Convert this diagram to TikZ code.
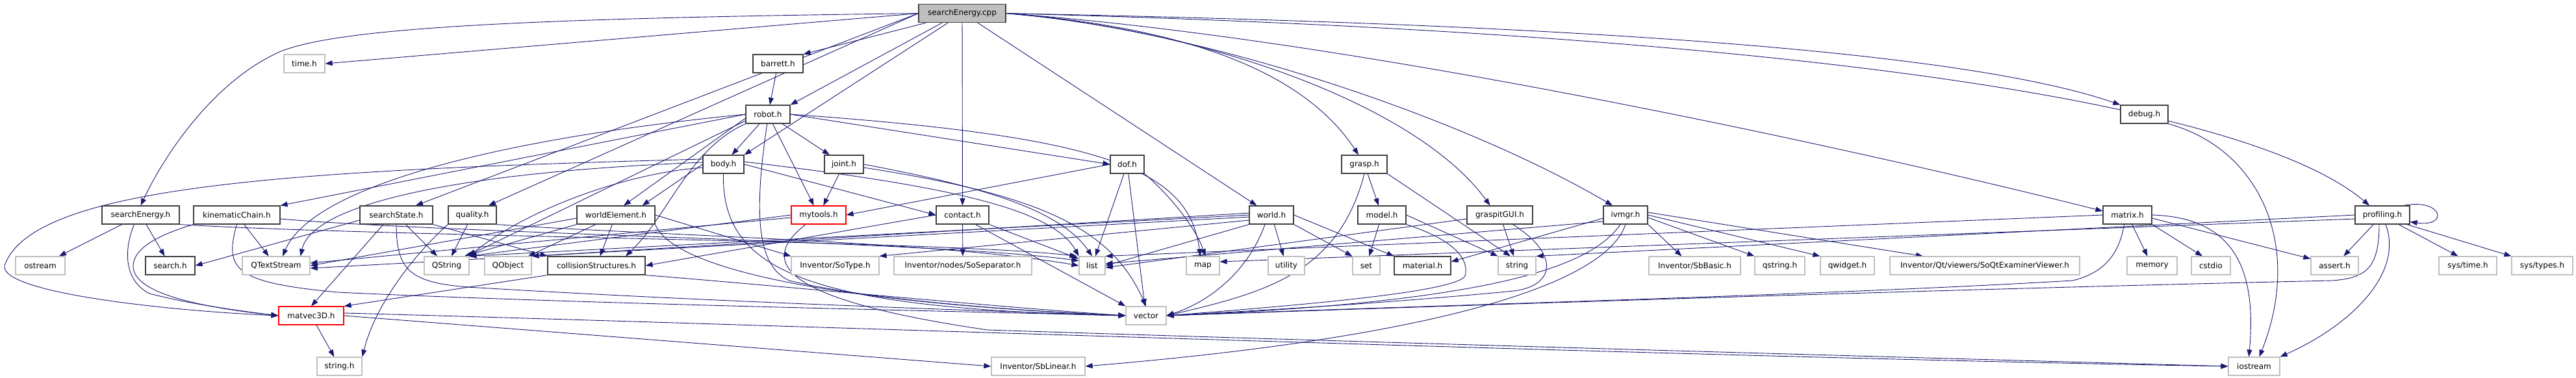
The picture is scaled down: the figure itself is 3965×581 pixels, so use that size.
\documentclass[tikz,border=0pt]{standalone}
\usepackage{fontspec}
\setmainfont{DejaVu Sans}
\usetikzlibrary{arrows.meta}

\definecolor{depblue}{HTML}{191970}
\definecolor{framegray}{HTML}{404040}
\definecolor{extgray}{HTML}{BFBFBF}

\pgfdeclarelayer{edges}
\pgfsetlayers{edges,main}

\tikzset{
  filebox/.style={rectangle, minimum height=28pt, inner sep=0pt, fill=white, line width=1.2pt, font=\fontsize{12}{14}\selectfont},
  hdr/.style={filebox, draw=framegray},
  ext/.style={filebox, draw=extgray},
  trunc/.style={filebox, draw=red},
  root/.style={filebox, draw=framegray, fill=extgray},
  dep/.style={draw=depblue, line width=0.9pt, -{Triangle[length=11pt, width=8pt]}},
}

\begin{document}
\begin{tikzpicture}[x=1pt, y=1pt]
    \useasboundingbox (0,0) rectangle (3965,-581);

    % source file
    \node[root, minimum width=134] (cpp) at (1481,-20.6) {searchEnergy.cpp};

    % row 1 and 2
    \node[ext, minimum width=63] (time) at (468.5,-98) {time.h};
    \node[hdr, minimum width=77] (barrett) at (1197.5,-98) {barrett.h};
    \node[hdr, minimum width=68] (robot) at (1182,-176) {robot.h};
    \node[hdr, minimum width=73] (debug) at (3300.5,-176) {debug.h};

    % row 3
    \node[hdr, minimum width=63] (body) at (1113.5,-253) {body.h};
    \node[hdr, minimum width=60] (joint) at (1299,-253) {joint.h};
    \node[hdr, minimum width=52] (dof) at (1735,-253) {dof.h};
    \node[hdr, minimum width=70] (grasp) at (2100,-253) {grasp.h};

    % row 4
    \node[hdr, minimum width=119] (seh) at (216.5,-331) {searchEnergy.h};
    \node[hdr, minimum width=133] (kchain) at (364.5,-331) {kinematicChain.h};
    \node[hdr, minimum width=112] (sstate) at (610,-331) {searchState.h};
    \node[hdr, minimum width=74] (quality) at (727,-331) {quality.h};
    \node[hdr, minimum width=120] (welem) at (948,-331) {worldElement.h};
    \node[trunc, minimum width=84] (mytools) at (1260,-331) {mytools.h};
    \node[hdr, minimum width=81] (contact) at (1481.5,-331) {contact.h};
    \node[hdr, minimum width=68] (world) at (1957,-331) {world.h};
    \node[hdr, minimum width=74] (model) at (2127,-331) {model.h};
    \node[hdr, minimum width=101] (gui) at (2308.5,-331) {graspitGUI.h};
    \node[hdr, minimum width=68] (ivmgr) at (2502,-331) {ivmgr.h};
    \node[hdr, minimum width=75] (matrix) at (3274.5,-331) {matrix.h};
    \node[hdr, minimum width=84] (profiling) at (3667,-331) {profiling.h};

    % row 5
    \node[ext, minimum width=76] (ostream) at (62,-409) {ostream};
    \node[hdr, minimum width=76] (search) at (262,-409) {search.h};
    \node[ext, minimum width=104] (qtext) at (425,-409) {QTextStream};
    \node[ext, minimum width=69] (qstr) at (687.5,-409) {QString};
    \node[ext, minimum width=72] (qobj) at (782,-409) {QObject};
    \node[hdr, minimum width=150] (collision) at (918,-409) {collisionStructures.h};
    \node[ext, minimum width=135] (sotype) at (1285.5,-409) {Inventor/SoType.h};
    \node[ext, minimum width=212] (sosep) at (1482,-409) {Inventor/nodes/SoSeparator.h};
    \node[ext, minimum width=40] (list) at (1681,-409) {list};
    \node[ext, minimum width=51] (map) at (1851.5,-409) {map};
    \node[ext, minimum width=56] (utility) at (1980,-409) {utility};
    \node[ext, minimum width=42] (set) at (2103,-409) {set};
    \node[hdr, minimum width=87] (material) at (2189.5,-409) {material.h};
    \node[ext, minimum width=58] (string) at (2335,-409) {string};
    \node[ext, minimum width=141] (sbbasic) at (2608.5,-409) {Inventor/SbBasic.h};
    \node[ext, minimum width=77] (qstrh) at (2739.5,-409) {qstring.h};
    \node[ext, minimum width=83] (qwidget) at (2843.5,-409) {qwidget.h};
    \node[ext, minimum width=292] (soqt) at (3055,-409) {Inventor/Qt/viewers/SoQtExaminerViewer.h};
    \node[ext, minimum width=77] (memory) at (3312.5,-409) {memory};
    \node[ext, minimum width=60] (cstdio) at (3403,-409) {cstdio};
    \node[ext, minimum width=73] (assert) at (3593.5,-409) {assert.h};
    \node[ext, minimum width=89] (systime) at (3798.5,-409) {sys/time.h};
    \node[ext, minimum width=94] (systypes) at (3913,-409) {sys/types.h};

    % row 6 and 7
    \node[trunc, minimum width=100] (matvec) at (479,-486) {matvec3D.h};
    \node[ext, minimum width=62] (vector) at (1764,-486) {vector};
    \node[ext, minimum width=69] (stringh) at (522.5,-564) {string.h};
    \node[ext, minimum width=144] (sblinear) at (1598,-564) {Inventor/SbLinear.h};
    \node[ext, minimum width=79] (iostream) at (3469.5,-564) {iostream};

    \begin{pgfonlayer}{edges}
    % searchEnergy.cpp
    \draw[dep] (cpp.west) -- (time.east);
    \draw[dep] (cpp.west) .. controls (820,-28) and (520,-42) .. (430,-80) .. controls (330,-125) and (255,-235) .. (seh.north);
    \draw[dep] ([xshift=-56]cpp.south) -- (barrett.north east);
    \draw[dep] ([xshift=-31]cpp.south) -- (robot.north east);
    \draw[dep] ([xshift=-22]cpp.south) -- (body.north east);
    \draw[dep] (cpp) -- (contact);
    \draw[dep] ([xshift=24]cpp.south) -- ([xshift=12]world.north west);
    \draw[dep] (cpp.west) -- ([xshift=30]sstate.north);
    \draw[dep] (cpp.west) -- ([xshift=25]quality.north);
    \draw[dep] (cpp.east) .. controls (1800,-40) and (2000,-100) .. ([xshift=-9]grasp.north);
    \draw[dep] (cpp.east) .. controls (1850,-45) and (2180,-160) .. ([xshift=-15]gui.north);
    \draw[dep] (cpp.east) .. controls (1850,-45) and (2250,-180) .. ([xshift=-20]ivmgr.north);
    \draw[dep] (cpp.east) .. controls (2100,-60) and (2900,-240) .. ([yshift=6]matrix.west);
    \draw[dep] (cpp.east) .. controls (2300,-35) and (3000,-70) .. (debug.north west);
    \draw[dep] (cpp.east) .. controls (2700,-50) and (3450,-150) .. ([xshift=-20]profiling.north);

    % barrett.h and robot.h
    \draw[dep] (barrett) -- (robot);
    \draw[dep] (robot) -- (body);
    \draw[dep] (robot) -- (joint);
    \draw[dep] (robot) -- (mytools);
    \draw[dep] (robot.east) -- (dof.west);
    \draw[dep] (robot.east) .. controls (1700,-210) and (1830,-260) .. ([xshift=-4]map.north);
    \draw[dep] (robot.265) .. controls (1160,-330) and (1165,-410) .. (1215,-432) .. controls (1350,-465) and (1600,-480) .. (vector.west);
    \draw[dep] (robot.west) -- (kchain.north east);
    \draw[dep] ([yshift=-6]robot.west) -- ([xshift=12]welem.north);
    \draw[dep] (robot.west) .. controls (750,-215) and (480,-290) .. ([xshift=10]qtext.north);
    \draw[dep] ([yshift=-10]robot.west) -- ([xshift=-4]qstr.north east);
    \draw[dep] (robot.south west) .. controls (1060,-230) and (1030,-330) .. ([xshift=45]collision.north);

    % body.h and joint.h
    \draw[dep] (body.west) -- ([xshift=-20]welem.north east);
    \draw[dep] (body.east) -- (contact.west);
    \draw[dep] ([yshift=4]body.east) .. controls (1450,-285) and (1620,-320) .. (list.north west);
    \draw[dep] (body.south) .. controls (1110,-420) and (1250,-475) .. (vector.west);
    \draw[dep] ([yshift=-5]body.west) .. controls (950,-268) and (800,-330) .. (qstr.north east);
    \draw[dep] ([yshift=3]body.west) .. controls (700,-265) and (480,-315) .. ([xshift=-15]qtext.north east);
    \draw[dep] ([yshift=8]body.west) .. controls (450,-262) and (50,-285) .. (7,-409) .. controls (0,-450) and (250,-478) .. (matvec.west);
    \draw[dep] (joint) -- (mytools);
    \draw[dep] (joint.east) .. controls (1500,-285) and (1630,-320) .. (list.north);
    \draw[dep] ([yshift=-5]joint.east) .. controls (1600,-300) and (1710,-350) .. (vector.north);

    % dof.h and grasp.h
    \draw[dep] (dof.west) -- (mytools.east);
    \draw[dep] (dof) -- (list);
    \draw[dep] (dof) -- (vector);
    \draw[dep] (dof.south east) .. controls (1800,-300) and (1840,-350) .. ([xshift=4]map.north);
    \draw[dep] (grasp) -- (model);
    \draw[dep] (grasp.south east) -- ([xshift=-10]string.north);
    \draw[dep] (grasp.south) .. controls (2060,-420) and (1950,-450) .. (vector.east);

    % searchEnergy.h, kinematicChain.h, searchState.h, quality.h
    \draw[dep] (seh) -- (ostream);
    \draw[dep] (seh) -- (search);
    \draw[dep] ([xshift=-10]seh.south) .. controls (192,-380) and (188,-430) .. (230,-452) .. controls (300,-470) and (380,-480) .. (matvec.west);
    \draw[dep] (seh.south east) .. controls (600,-365) and (1450,-370) .. ([xshift=-3]list.north west);
    \draw[dep] (kchain) -- (qtext);
    \draw[dep] (kchain.south west) .. controls (250,-360) and (205,-380) .. (205,-410) .. controls (205,-450) and (300,-472) .. (matvec.west);
    \draw[dep] (kchain.south) .. controls (345,-415) and (360,-435) .. (520,-450) .. controls (900,-468) and (1500,-480) .. (vector.west);
    \draw[dep] ([yshift=-6]kchain.east) .. controls (700,-360) and (1450,-372) .. (list.160);
    \draw[dep] ([yshift=-8]sstate.west) -- (search.east);
    \draw[dep] (sstate) -- (qstr);
    \draw[dep] ([xshift=-20]sstate.south) -- (matvec.north);
    \draw[dep] (sstate.south) .. controls (610,-415) and (630,-435) .. (720,-442) .. controls (1100,-465) and (1500,-478) .. (vector.west);
    \draw[dep] (sstate.south east) -- (collision.north west);
    \draw[dep] (quality) -- (qstr);
    \draw[dep] (quality.south west) .. controls (650,-380) and (580,-460) .. (stringh.north east);
    \draw[dep] (quality.south east) .. controls (1000,-362) and (1450,-372) .. (list.west);

    % worldElement.h, mytools.h, contact.h
    \draw[dep] ([yshift=-5]welem.west) -- (qtext.east);
    \draw[dep] (welem.south west) -- ([xshift=-8]qstr.north east);
    \draw[dep] (welem) -- (qobj);
    \draw[dep] (welem) -- (collision);
    \draw[dep] (welem.east) -- (sotype.north west);
    \draw[dep] (welem.south east) .. controls (1030,-400) and (1200,-462) .. (vector.west);
    \draw[dep] (mytools.west) -- ([xshift=-2]qstr.north east);
    \draw[dep] ([yshift=-4]mytools.west) -- ([yshift=4]qtext.east);
    \draw[dep] ([xshift=-20]mytools.south) .. controls (1170,-400) and (1190,-460) .. (1520,-508) .. controls (2200,-530) and (3000,-552) .. (iostream.west);
    \draw[dep] (contact) -- (sosep);
    \draw[dep] (contact.south east) -- ([yshift=-4]list.north west);
    \draw[dep] ([xshift=20]contact.south) -- (vector.north west);
    \draw[dep] (contact.west) -- (collision.east);

    % world.h, model.h, graspitGUI.h, ivmgr.h
    \draw[dep] ([yshift=3]world.west) -- (qobj.north east);
    \draw[dep] (world.west) -- (qstr.north east);
    \draw[dep] ([yshift=-3]world.west) -- ([yshift=-4]qtext.east);
    \draw[dep] ([yshift=-8]world.west) -- (sotype.north east);
    \draw[dep] (world.south west) -- (list.east);
    \draw[dep] (world) -- (utility);
    \draw[dep] (world.south east) -- (set.north west);
    \draw[dep] (world.east) -- (material.north west);
    \draw[dep] ([xshift=-10]world.south) .. controls (1920,-420) and (1860,-465) .. (vector.east);
    \draw[dep] (model) -- (set);
    \draw[dep] (model.east) -- (string.north west);
    \draw[dep] (model.south east) .. controls (2240,-370) and (2262,-400) .. (2255,-425) .. controls (2240,-450) and (2000,-470) .. (vector.east);
    \draw[dep] (gui) -- (string);
    \draw[dep] ([xshift=20]gui.south) .. controls (2400,-390) and (2395,-440) .. (2330,-448) .. controls (2100,-470) and (1900,-480) .. (vector.east);
    \draw[dep] ([yshift=-6]gui.west) -- ([yshift=-3]list.east);
    \draw[dep] ([yshift=-10]ivmgr.west) -- ([yshift=3]list.east);
    \draw[dep] ([yshift=-5]ivmgr.west) -- ([yshift=6]material.east);
    \draw[dep] ([xshift=-8]ivmgr.south) .. controls (2450,-410) and (2300,-465) .. (vector.east);
    \draw[dep] (ivmgr.south) .. controls (2470,-440) and (2200,-520) .. (sblinear.east);
    \draw[dep] (ivmgr.south east) -- ([xshift=-20]sbbasic.north);
    \draw[dep] ([yshift=-4]ivmgr.east) -- (qstrh.north west);
    \draw[dep] (ivmgr.east) -- (qwidget.north west);
    \draw[dep] ([yshift=4]ivmgr.east) -- ([xshift=-95]soqt.north);

    % matrix.h, profiling.h, debug.h
    \draw[dep] (matrix.west) -- (list.north east);
    \draw[dep] (matrix) -- (memory);
    \draw[dep] (matrix.south east) -- ([xshift=-13]cstdio.north);
    \draw[dep] (matrix.east) .. controls (3450,-335) and (3472,-430) .. ([xshift=-8]iostream.north);
    \draw[dep] ([yshift=-5]matrix.east) -- ([yshift=-4]assert.north west);
    \draw[dep] ([xshift=-5]matrix.south) .. controls (3262,-390) and (3240,-420) .. (3190,-432) .. controls (2800,-455) and (2200,-470) .. (vector.east);
    \draw[dep] ([xshift=-10]profiling.north east) .. controls (3760,-305) and (3770,-350) .. ([yshift=4]profiling.south east);
    \draw[dep] (profiling) -- (assert);
    \draw[dep] ([xshift=25]profiling.south) -- ([xshift=-15]systime.north);
    \draw[dep] ([xshift=-5]profiling.south east) -- (systypes.north west);
    \draw[dep] ([xshift=5]profiling.south) .. controls (3700,-420) and (3620,-500) .. (iostream.north east);
    \draw[dep] ([xshift=-5]profiling.south) .. controls (3662,-415) and (3640,-428) .. (3590,-432) .. controls (3000,-445) and (2200,-472) .. (vector.east);
    \draw[dep] (profiling.west) -- (string.north east);
    \draw[dep] ([yshift=-6]profiling.west) -- ([yshift=6]map.east);
    \draw[dep] (debug.south east) .. controls (3480,-230) and (3545,-380) .. ([xshift=8]iostream.north);

    % collisionStructures.h and matvec3D.h
    \draw[dep] (collision.south west) -- (matvec.north east);
    \draw[dep] (collision.south east) .. controls (1200,-440) and (1500,-470) .. (vector.west);
    \draw[dep] (matvec) -- (stringh);
    \draw[dep] (matvec.east) -- (sblinear.west);
    \draw[dep] ([yshift=4]matvec.east) .. controls (1200,-500) and (2600,-550) .. (iostream.west);
    \end{pgfonlayer}
\end{tikzpicture}
\end{document}
